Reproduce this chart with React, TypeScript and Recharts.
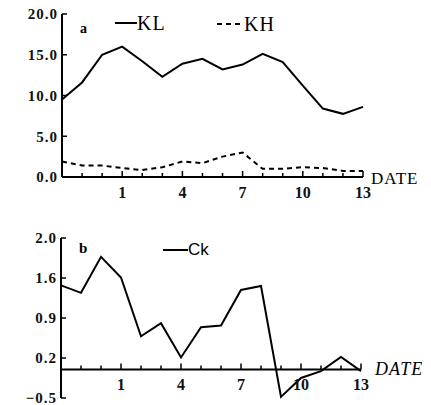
import React from 'react';
import { LineChart, Line, XAxis, YAxis, ReferenceLine } from 'recharts';

// dates along the bottom; only some of them carry a label
const dates = ['29', '30', '31', '1', '2', '3', '4', '5', '6', '7', '8', '9', '10', '11', '12', '13'];
const shownDates = ['1', '4', '7', '10', '13'];

// panel a
const klValues = [9.5, 11.6, 15.0, 16.0, 14.2, 12.3, 13.9, 14.5, 13.2, 13.8, 15.1, 14.1, 11.2, 8.4, 7.75, 8.6];
const khValues = [1.9, 1.4, 1.4, 1.1, 0.85, 1.2, 1.9, 1.7, 2.5, 3.0, 1.0, 1.0, 1.2, 1.1, 0.75, 0.75];
const topTicks = [0, 5, 10, 15, 20];
const topTickLabels = ['0.0', '5.0', '10.0', '15.0', '20.0'];

// panel b (printed top label reads 2.0)
const ckValues = [1.47, 1.34, 1.97, 1.61, 0.58, 0.81, 0.21, 0.74, 0.77, 1.39, 1.46, -0.48, -0.15, -0.03, 0.22, -0.03];
const bottomTicks = [-0.5, 0.2, 0.9, 1.6, 2.3];
const bottomTickLabels = ['\u22120.5', '0.2', '0.9', '1.6', '2.0'];

const topData = dates.map((d, i) => ({ date: d, KL: klValues[i], KH: khValues[i] }));
const bottomData = dates.map((d, i) => ({ date: d, Ck: ckValues[i] }));

const times = '"Liberation Serif", serif';
const tickFont = { fontFamily: times, fontWeight: 700, fontSize: 15, fill: '#111' };

// chart geometry
const W = 431;
const topH = 200;
const topMargin = { top: 14, right: 68, bottom: 3, left: 0 };
const topAxisY = topH - topMargin.bottom - 20;

const botH = 205;
const botMargin = { top: 38, right: 70, bottom: 6, left: 0 };
const botPlotH = botH - botMargin.top - botMargin.bottom - 1;
const zeroY = botMargin.top + (botPlotH * bottomTicks[4]) / (bottomTicks[4] - bottomTicks[0]);

function DateTick(props: any) {
  const { x, payload, axisY, offsetY } = props;
  const major = shownDates.includes(payload.value);
  return (
    <g>
      <line x1={x} x2={x} y1={axisY} y2={axisY - (major ? 6 : 4)} stroke="#000" strokeWidth={1.5} />
      {major && (
        <text x={x} y={axisY + offsetY} textAnchor="middle" {...tickFont} fontSize={16}>
          {payload.value}
        </text>
      )}
    </g>
  );
}

function ValueTick(props: any) {
  const { y, payload, axisX, ticks, labels } = props;
  const label = labels[ticks.indexOf(payload.value)];
  return (
    <g>
      <line x1={axisX} x2={axisX + 5} y1={y} y2={y} stroke="#000" strokeWidth={1.5} />
      <text x={axisX - 4} y={y} dy="0.35em" textAnchor="end" letterSpacing={1} {...tickFont}>
        {label}
      </text>
    </g>
  );
}

const abs = (left: number, top: number): React.CSSProperties => ({
  position: 'absolute',
  left,
  top,
  lineHeight: 1,
  whiteSpace: 'nowrap',
});

export default function App() {
  return (
    <div style={{ position: 'absolute', left: 0, top: 0, width: W, height: 405, background: '#fff' }}>
      <div style={abs(0, 0)}>
        <LineChart width={W} height={topH} data={topData} margin={topMargin}>
          <XAxis
            dataKey="date"
            interval={0}
            height={20}
            axisLine={{ stroke: '#000', strokeWidth: 2 }}
            tickLine={false}
            tick={<DateTick axisY={topAxisY} offsetY={21} />}
          />
          <YAxis
            type="number"
            domain={[0, 20]}
            ticks={topTicks}
            interval={0}
            width={62}
            axisLine={{ stroke: '#000', strokeWidth: 2 }}
            tickLine={false}
            tick={<ValueTick axisX={62} ticks={topTicks} labels={topTickLabels} />}
          />
          <Line dataKey="KL" stroke="#000" strokeWidth={2} dot={false} isAnimationActive={false} type="linear" />
          <Line
            dataKey="KH"
            stroke="#000"
            strokeWidth={2}
            strokeDasharray="5 4"
            dot={false}
            isAnimationActive={false}
            type="linear"
          />
        </LineChart>
      </div>

      <div style={abs(0, 200)}>
        <LineChart width={W} height={botH} data={bottomData} margin={botMargin}>
          <XAxis
            dataKey="date"
            interval={0}
            height={1}
            axisLine={false}
            tickLine={false}
            tick={<DateTick axisY={zeroY} offsetY={21} />}
          />
          <YAxis
            type="number"
            domain={[bottomTicks[0], bottomTicks[4]]}
            ticks={bottomTicks}
            interval={0}
            width={61}
            axisLine={{ stroke: '#000', strokeWidth: 2 }}
            tickLine={false}
            tick={<ValueTick axisX={61} ticks={bottomTicks} labels={bottomTickLabels} />}
          />
          <ReferenceLine y={0} stroke="#000" strokeWidth={2} />
          <Line dataKey="Ck" stroke="#000" strokeWidth={2} dot={false} isAnimationActive={false} type="linear" />
        </LineChart>
      </div>

      {/* panel letters, legends and axis names */}
      <div style={{ ...abs(80, 22), fontFamily: times, fontWeight: 700, fontSize: 14 }}>a</div>
      <div style={{ ...abs(115, 13), fontFamily: times, fontSize: 20, letterSpacing: 1, display: 'flex', alignItems: 'center' }}>
        <svg width={22} height={4}><line x1={0} x2={22} y1={2} y2={2} stroke="#000" strokeWidth={2} /></svg>
        <span>KL</span>
      </div>
      <div style={{ ...abs(217, 14), fontFamily: times, fontSize: 20, letterSpacing: 1, display: 'flex', alignItems: 'center' }}>
        <svg width={27} height={4}><line x1={0} x2={27} y1={2} y2={2} stroke="#000" strokeWidth={2} strokeDasharray="5 4" /></svg>
        <span>KH</span>
      </div>
      <div style={{ ...abs(371, 170), fontFamily: times, fontSize: 17, letterSpacing: 1 }}>DATE</div>

      <div style={{ ...abs(79, 241), fontFamily: times, fontWeight: 700, fontSize: 15 }}>b</div>
      <div style={{ ...abs(163, 241), fontFamily: '"Liberation Sans", sans-serif', fontSize: 17, display: 'flex', alignItems: 'center' }}>
        <svg width={25} height={4}><line x1={0} x2={25} y1={2} y2={2} stroke="#000" strokeWidth={2} /></svg>
        <span>Ck</span>
      </div>
      <div style={{ ...abs(375, 360), fontFamily: times, fontStyle: 'italic', fontSize: 18, letterSpacing: 1 }}>DATE</div>
    </div>
  );
}
